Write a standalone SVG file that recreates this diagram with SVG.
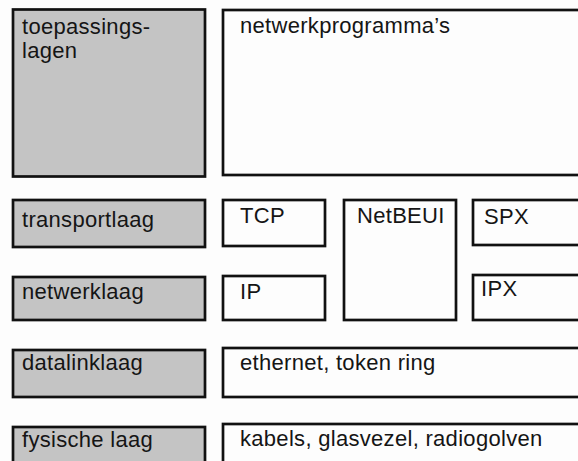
<svg xmlns="http://www.w3.org/2000/svg" width="578" height="461" viewBox="0 0 578 461">
<style>
.g{fill:#c4c4c4;stroke:#111;stroke-width:2.7}
.w{fill:#fdfdfd;stroke:#111;stroke-width:2.7}
text{font-family:"Liberation Sans",Arial,sans-serif;font-size:22px;fill:#151515;letter-spacing:0.3px}
</style>
<rect width="578" height="461" fill="#fdfdfd"/>
<g id="toepassingslagen"><rect class="g" x="13" y="9.5" width="192" height="167"/><text x="22" y="34">toepassings-</text><text x="22" y="58">lagen</text></g>
<g id="netwerkprogrammas"><rect class="w" x="223" y="10" width="362" height="165"/><text x="240" y="33">netwerkprogramma’s</text></g>
<g id="transportlaag"><rect class="g" x="13" y="200" width="192" height="47"/><text x="22" y="227">transportlaag</text></g>
<g id="tcp"><rect class="w" x="223" y="200" width="102" height="46"/><text x="240" y="223">TCP</text></g>
<g id="netbeui"><rect class="w" x="344" y="200" width="112" height="120"/><text x="357" y="223">NetBEUI</text></g>
<g id="spx"><rect class="w" x="473" y="200" width="112" height="45"/><text x="484" y="224">SPX</text></g>
<g id="netwerklaag"><rect class="g" x="13" y="277" width="192" height="43"/><text x="22" y="299">netwerklaag</text></g>
<g id="ip"><rect class="w" x="223" y="276" width="102" height="44"/><text x="240" y="299">IP</text></g>
<g id="ipx"><rect class="w" x="473" y="275" width="112" height="45"/><text x="481" y="296">IPX</text></g>
<g id="datalinklaag"><rect class="g" x="13" y="350" width="192" height="47"/><text x="22" y="370">datalinklaag</text></g>
<g id="ethernet"><rect class="w" x="223" y="348" width="362" height="49"/><text x="240" y="370">ethernet, token ring</text></g>
<g id="fysischelaag"><rect class="g" x="13" y="427" width="192" height="60"/><text x="22" y="447">fysische laag</text></g>
<g id="kabels"><rect class="w" x="223" y="424" width="362" height="60"/><text x="240" y="446">kabels, glasvezel, radiogolven</text></g>
<g id="connectors"/>
</svg>
